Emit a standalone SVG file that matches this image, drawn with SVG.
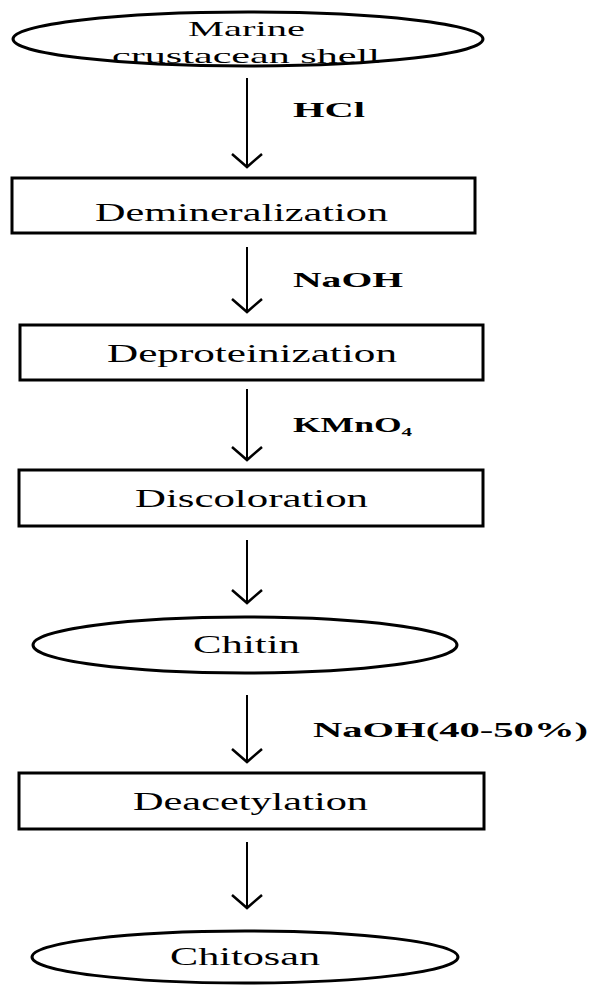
<svg xmlns="http://www.w3.org/2000/svg" width="598" height="1000" viewBox="0 0 598 1000">
<defs>
<style>
.node{fill:#fff;stroke:#000;stroke-width:3}
.t{font-family:"Liberation Serif","Times New Roman",serif;font-size:26px;fill:#000}
.t2{font-size:21px}
.lbl{font-family:"Liberation Serif","Times New Roman",serif;font-size:22px;font-weight:bold;fill:#000}
.conn{stroke:#000;stroke-width:2;fill:none;marker-end:url(#arr)}
</style>
<marker id="arr" markerUnits="userSpaceOnUse" markerWidth="40" markerHeight="40" viewBox="-20 -20 40 40" refX="0" refY="0" orient="auto">
<path d="M-13,-15 L0,0 L-13,15" fill="none" stroke="#000" stroke-width="2.5"/>
</marker>
</defs>
<rect width="598" height="1000" fill="#fff"/>
<g id="connectors">
<line class="conn" x1="247" y1="78" x2="247" y2="167"/>
<line class="conn" x1="247" y1="247" x2="247" y2="312"/>
<line class="conn" x1="247" y1="389" x2="247" y2="460"/>
<line class="conn" x1="247" y1="540" x2="247" y2="603"/>
<line class="conn" x1="247" y1="695" x2="247" y2="762"/>
<line class="conn" x1="247" y1="842" x2="247" y2="908"/>
<text class="lbl" x="293" y="117" textLength="72" lengthAdjust="spacingAndGlyphs">HCl</text>
<text class="lbl" x="293" y="287" textLength="110" lengthAdjust="spacingAndGlyphs">NaOH</text>
<text class="lbl" x="293" y="432" textLength="119" lengthAdjust="spacingAndGlyphs">KMnO<tspan font-size="13" dy="4">4</tspan></text>
<text class="lbl" x="313" y="737" textLength="275" lengthAdjust="spacingAndGlyphs">NaOH(40-50%)</text>
</g>
<g id="n-shell">
<ellipse class="node" cx="248" cy="39" rx="235" ry="27"/>
<text class="t t2" x="188" y="36" textLength="117" lengthAdjust="spacingAndGlyphs">Marine</text>
<text class="t t2" x="112" y="63" textLength="268" lengthAdjust="spacingAndGlyphs">crustacean shell</text>
</g>
<g id="n-demin">
<rect class="node" x="12" y="178" width="463" height="55"/>
<text class="t" x="95" y="221" textLength="293" lengthAdjust="spacingAndGlyphs">Demineralization</text>
</g>
<g id="n-deprot">
<rect class="node" x="20" y="325" width="463" height="55"/>
<text class="t" x="107" y="362" textLength="290" lengthAdjust="spacingAndGlyphs">Deproteinization</text>
</g>
<g id="n-discol">
<rect class="node" x="19" y="470" width="464" height="56"/>
<text class="t" x="135" y="507" textLength="233" lengthAdjust="spacingAndGlyphs">Discoloration</text>
</g>
<g id="n-chitin">
<ellipse class="node" cx="245" cy="645" rx="212" ry="28"/>
<text class="t" x="193" y="653" textLength="107" lengthAdjust="spacingAndGlyphs">Chitin</text>
</g>
<g id="n-deacet">
<rect class="node" x="19" y="773" width="465" height="56"/>
<text class="t" x="133" y="810" textLength="235" lengthAdjust="spacingAndGlyphs">Deacetylation</text>
</g>
<g id="n-chitosan">
<ellipse class="node" cx="245" cy="957" rx="213" ry="26"/>
<text class="t" x="170" y="965" textLength="150" lengthAdjust="spacingAndGlyphs">Chitosan</text>
</g>
</svg>
